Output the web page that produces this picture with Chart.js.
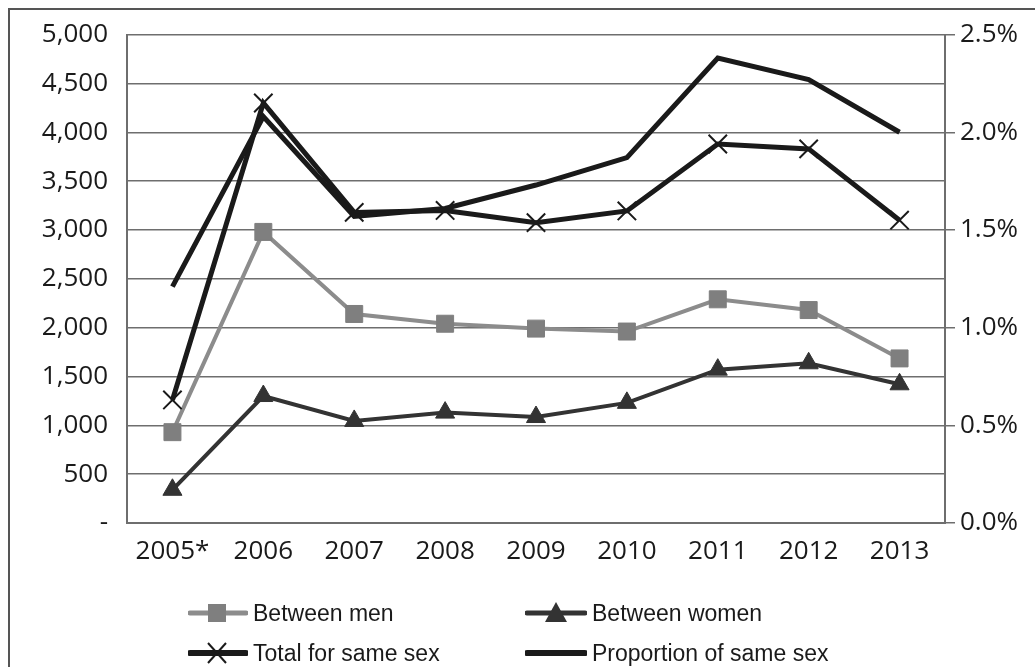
<!DOCTYPE html>
<html>
<head>
<meta charset="utf-8">
<script src="https://cdn.jsdelivr.net/npm/chart.js@4/dist/chart.umd.min.js"></script>
<style>
  html, body { margin: 0; padding: 0; background: #fff; }
  #wrap { position: relative; width: 1035px; height: 667px; overflow: hidden; }
  #frame { position: absolute; left: 8px; top: 8px; width: 1100px; height: 800px; border: 2px solid #555; box-sizing: border-box; }
  canvas#chart { position: absolute; left: 0; top: 0; }
  .leg { position: absolute; font-family: "Liberation Sans", Arial, sans-serif; font-size: 23px; color: #1a1a1a; display: flex; align-items: center; white-space: nowrap; }
  .leg svg { margin-right: 5px; }
</style>
</head>
<body>
<div id="wrap">
  <div id="frame"></div>
  <canvas id="chart" width="1035" height="667"></canvas>
  <div class="leg" style="left:188px; top:598px;">
    <svg width="60" height="30"><line x1="2" y1="15" x2="58" y2="15" stroke="#8c8c8c" stroke-width="5" stroke-linecap="round"/><rect x="20" y="6" width="18" height="18" fill="#7f7f7f"/></svg>Between men
  </div>
  <div class="leg" style="left:525px; top:598px;">
    <svg width="62" height="30"><line x1="2" y1="15" x2="60" y2="15" stroke="#333" stroke-width="5" stroke-linecap="round"/><polygon points="31,4 42,24 20,24" fill="#333"/></svg>Between women
  </div>
  <div class="leg" style="left:188px; top:638px;">
    <svg width="60" height="30"><line x1="2" y1="15" x2="58" y2="15" stroke="#1a1a1a" stroke-width="6" stroke-linecap="round"/><line x1="20" y1="5" x2="38" y2="25" stroke="#1a1a1a" stroke-width="2"/><line x1="38" y1="5" x2="20" y2="25" stroke="#1a1a1a" stroke-width="2"/></svg>Total for same sex
  </div>
  <div class="leg" style="left:525px; top:638px;">
    <svg width="62" height="30"><line x1="2" y1="15" x2="60" y2="15" stroke="#1a1a1a" stroke-width="6" stroke-linecap="round"/></svg>Proportion of same sex
  </div>
</div>
<script>
// values
const years = ['2005*', '2006', '2007', '2008', '2009', '2010', '2011', '2012', '2013'];
const betweenMen = [930, 2980, 2140, 2040, 1990, 1960, 2290, 2180, 1685];
const betweenWomen = [340, 1300, 1045, 1130, 1085, 1230, 1570, 1635, 1420];
const totalSameSex = [1260, 4300, 3180, 3200, 3075, 3195, 3880, 3830, 3100];
const proportionSameSex = [1.21, 2.08, 1.57, 1.61, 1.73, 1.87, 2.38, 2.27, 2.00];

const countTicks = [0, 500, 1000, 1500, 2000, 2500, 3000, 3500, 4000, 4500, 5000];
const pctTicks = [0, 0.5, 1.0, 1.5, 2.0, 2.5];

const gridColor = '#6e6e6e';
const tickFont = { family: '"Open Sans", "DejaVu Sans", sans-serif', size: 26 };

var sameSexChart = new Chart(document.getElementById('chart'), {
  type: 'line',
  data: {
    labels: years,
    datasets: [
      {
        label: 'Proportion of same sex',
        data: proportionSameSex,
        yAxisID: 'yRight',
        borderColor: '#1a1a1a',
        borderWidth: 5,
        pointRadius: 0,
        tension: 0
      },
      {
        label: 'Total for same sex',
        data: totalSameSex,
        yAxisID: 'yLeft',
        borderColor: '#1a1a1a',
        borderWidth: 5,
        pointStyle: 'crossRot',
        pointRadius: 13,
        pointBorderWidth: 2,
        pointBorderColor: '#1a1a1a',
        tension: 0
      },
      {
        label: 'Between women',
        data: betweenWomen,
        yAxisID: 'yLeft',
        borderColor: '#333333',
        borderWidth: 4,
        pointStyle: 'triangle',
        pointRadius: 11,
        pointBackgroundColor: '#333333',
        pointBorderColor: '#333333',
        pointBorderWidth: 1,
        tension: 0
      },
      {
        label: 'Between men',
        data: betweenMen,
        yAxisID: 'yLeft',
        borderColor: '#8c8c8c',
        borderWidth: 4,
        pointStyle: 'rect',
        pointRadius: 12,
        pointBackgroundColor: '#7f7f7f',
        pointBorderColor: '#7f7f7f',
        pointBorderWidth: 1,
        tension: 0
      }
    ]
  },
  options: {
    responsive: false,
    animation: false,
    layout: { padding: { left: 0, right: 0, top: 27, bottom: 94 } },
    plugins: {
      legend: { display: false },
      tooltip: { enabled: false }
    },
    scales: {
      x: {
        offset: true,
        grid: { display: false, drawTicks: false },
        border: { display: true, color: gridColor, width: 2 },
        ticks: { color: '#1a1a1a', font: tickFont, padding: 13, maxRotation: 0 },
        afterFit: function(scale) { scale.height = 50; }
      },
      yLeft: {
        position: 'left',
        min: 0,
        max: 5000,
        afterBuildTicks: function(scale) { scale.ticks = countTicks.map(v => ({ value: v })); },
        grid: { color: gridColor, lineWidth: 1.5, drawTicks: false },
        border: { display: true, color: gridColor, width: 2 },
        ticks: {
          color: '#1a1a1a',
          font: tickFont,
          padding: 19,
          callback: function(value) { return value === 0 ? '-' : value.toLocaleString('en-US'); }
        },
        afterFit: function(scale) { scale.width = 127; }
      },
      yRight: {
        position: 'right',
        min: 0,
        max: 2.5,
        afterBuildTicks: function(scale) { scale.ticks = pctTicks.map(v => ({ value: v })); },
        grid: { drawOnChartArea: false, drawTicks: true, tickLength: 10, color: gridColor, lineWidth: 1.5 },
        border: { display: true, color: gridColor, width: 2 },
        ticks: {
          color: '#1a1a1a',
          font: tickFont,
          padding: 5,
          callback: function(value) { return value.toFixed(1) + '%'; }
        },
        afterFit: function(scale) { scale.width = 90; }
      }
    }
  }
});
</script>
</body>
</html>
